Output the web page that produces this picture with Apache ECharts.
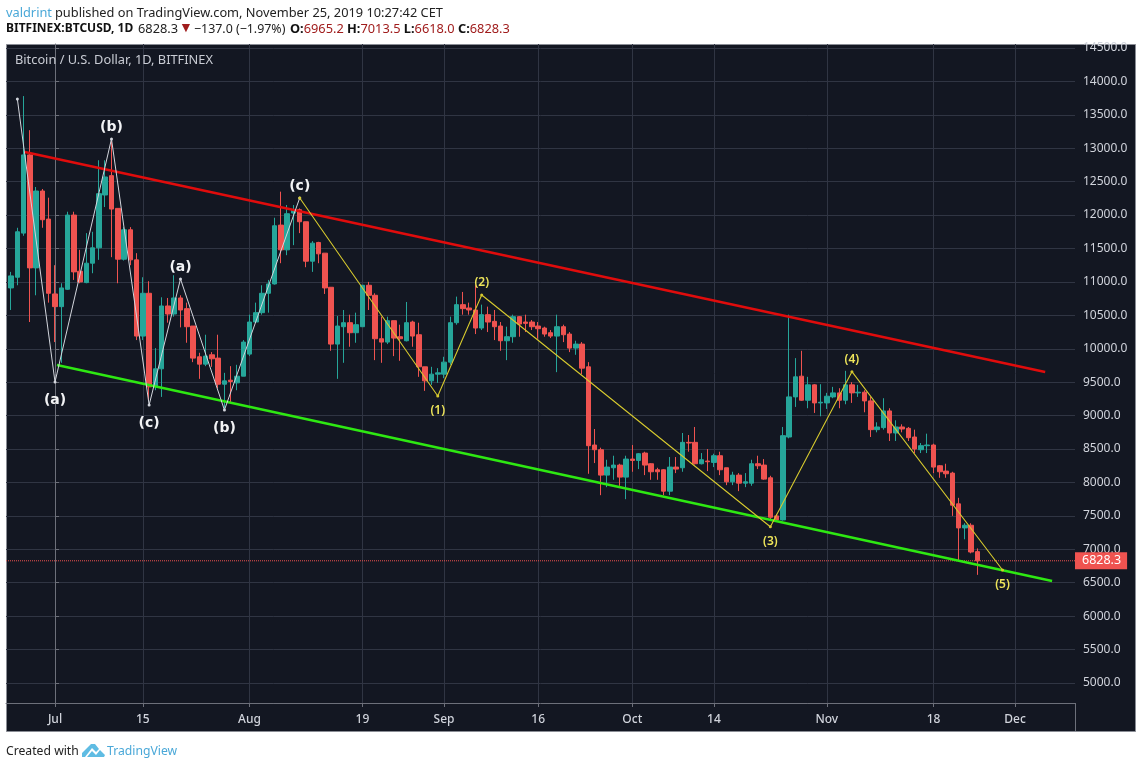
<!DOCTYPE html>
<html>
<head>
<meta charset="utf-8">
<title>BTCUSD</title>
<script src="https://cdn.jsdelivr.net/npm/echarts@6/dist/echarts.min.js"></script>
<style>
  html, body { margin: 0; padding: 0; background: #fff; }
  #chart { width: 1142px; height: 768px; }
</style>
</head>
<body>
<div id="chart"></div>
<script>
// days are counted from Jul 1 2019, first candle is Jun 24
const firstDay = -7;
const opens = [
  10910, 11070, 11730, 12900, 11210, 12360, 11940, 10820, 10630, 10890, 12000, 11160, 10990, 11280, 11510, 12300,
  12590, 12100, 11340, 11780, 11330, 10190, 10830, 9430, 9700, 10640, 10520, 10760, 10600, 10340, 9880, 9770,
  9910, 9860, 9470, 9530, 9490, 9590, 9920, 10400, 10540, 10830, 10970, 11850, 11480, 12030, 12080, 11900,
  11310, 11590, 11430, 10920, 10070, 10330, 10390, 10240, 10330, 10950, 10800, 10150, 10100, 10420, 10180, 10120,
  10400, 10210, 9730, 9520, 9620, 9620, 9800, 10390, 10660, 10610, 10580, 10310, 10510, 10410, 10340, 10120,
  10180, 10480, 10400, 10400, 10340, 10310, 10240, 10190, 10330, 10220, 10010, 10070, 9730, 8560, 8490, 8110,
  8220, 8260, 8080, 8350, 8330, 8440, 8280, 8190, 8190, 7870, 8230, 8220, 8600, 8600, 8280, 8320,
  8300, 8400, 8220, 8010, 8110, 7990, 7990, 8280, 8260, 8070, 7500, 7440, 8680, 9280, 9590, 9230,
  9460, 9190, 9190, 9280, 9340, 9230, 9460, 9340, 9350, 9220, 8790, 8820, 9070, 8740, 8830, 8810,
  8680, 8490, 8550, 8560, 8250, 8170, 8140, 7680, 7320, 7360, 6965.2
];
const closes = [
  11090, 11750, 12900, 11210, 12360, 11930, 10830, 10630, 10910, 12000, 11150, 11000, 11280, 11510, 12320, 12570,
  12090, 11340, 11780, 11330, 10190, 10830, 9430, 9700, 10640, 10520, 10760, 10580, 10330, 9860, 9770, 9890,
  9850, 9470, 9520, 9510, 9590, 10100, 10400, 10540, 10830, 10970, 11840, 11480, 12020, 12080, 11900, 11310,
  11580, 11420, 10910, 10070, 10340, 10390, 10240, 10360, 10950, 10800, 10150, 10100, 10420, 10160, 10150, 10390,
  10190, 9730, 9520, 9620, 9640, 9800, 10390, 10660, 10600, 10580, 10310, 10510, 10400, 10330, 10120, 10180,
  10480, 10370, 10380, 10330, 10300, 10220, 10190, 10330, 10210, 10010, 10070, 9710, 8550, 8490, 8110, 8230,
  8260, 8080, 8350, 8330, 8430, 8260, 8160, 8160, 7870, 8230, 8200, 8600, 8590, 8280, 8340, 8310,
  8400, 8190, 8010, 8110, 7990, 8010, 8280, 8250, 8050, 7480, 7440, 8700, 9280, 9580, 9230, 9460,
  9190, 9200, 9290, 9340, 9230, 9460, 9340, 9350, 9220, 8790, 8830, 9070, 8740, 8830, 8800, 8670,
  8500, 8550, 8560, 8230, 8160, 8130, 7660, 7320, 7360, 6960, 6828.3
];
const lows = [
  10580, 10950, 11690, 10400, 10800, 11810, 10690, 10100, 9790, 10880, 11030, 10980, 10980, 11130, 11330, 12120,
  11370, 10980, 11320, 11250, 10130, 10130, 9230, 9380, 9280, 10390, 10480, 10320, 10090, 9800, 9550, 9740,
  9730, 9410, 9080, 9190, 9380, 9590, 9890, 10390, 10510, 10540, 10960, 11280, 11400, 11550, 11730, 11220,
  11150, 11280, 10820, 9970, 9550, 9790, 10030, 10090, 10330, 10580, 9830, 9790, 10070, 9890, 9820, 10110,
  10030, 9580, 9370, 9460, 9490, 9560, 9760, 10360, 10510, 10510, 10220, 10280, 10250, 10130, 9970, 9830,
  10090, 10180, 10250, 10280, 10150, 10180, 10160, 9650, 10100, 9950, 9910, 9620, 8130, 8290, 7810, 7930,
  8040, 7950, 7750, 8160, 8200, 8110, 8040, 8040, 7810, 7810, 8140, 8160, 8460, 8270, 8270, 8170,
  8230, 8110, 7960, 7960, 7870, 7930, 7950, 8200, 8040, 7440, 7410, 7430, 8660, 9130, 9220, 9110,
  9040, 8990, 9100, 9260, 9110, 9170, 9190, 9280, 9050, 8680, 8750, 8790, 8620, 8620, 8750, 8620,
  8440, 8440, 8440, 8140, 8070, 8070, 7500, 6840, 7150, 6940, 6618
];
const highs = [
  11150, 11810, 13780, 13270, 12420, 12390, 12260, 11250, 10980, 12050, 12050, 11480, 11730, 11750, 12820, 12820,
  13120, 12100, 11820, 11820, 11430, 11070, 11010, 10010, 10770, 10760, 11100, 10800, 10690, 10340, 9940, 10210,
  9950, 10210, 9640, 9740, 9760, 10130, 10510, 10690, 10950, 11030, 11960, 12350, 12150, 12150, 12100, 11900,
  11610, 11600, 11430, 10920, 10490, 10580, 10510, 10540, 10950, 11000, 10830, 10480, 10480, 10420, 10360, 10700,
  10420, 10390, 9730, 9730, 9710, 9880, 10480, 10780, 10850, 10690, 10950, 10660, 10630, 10580, 10400, 10330,
  10510, 10490, 10510, 10430, 10400, 10330, 10280, 10510, 10360, 10250, 10120, 10100, 9800, 8800, 8520, 8340,
  8400, 8280, 8400, 8560, 8440, 8460, 8290, 8220, 8200, 8380, 8380, 8740, 8710, 8830, 8440, 8500,
  8430, 8460, 8220, 8160, 8140, 8140, 8340, 8400, 8350, 8100, 7530, 8830, 10510, 9860, 9970, 9580,
  9470, 9470, 9340, 9430, 9410, 9670, 9500, 9460, 9380, 9280, 8900, 9260, 9110, 8930, 8870, 8830,
  8790, 8590, 8730, 8580, 8260, 8280, 8160, 7770, 7390, 7390, 7013.5
];

const lastClose = 6828.3;

const xExtent = [-7.81, 162.55];
const yExtent = [4701, 14559];
const yTicks = [5000, 5500, 6000, 6500, 7000, 7500, 8000, 8500, 9000, 9500, 10000, 10500, 11000, 11500, 12000, 12500, 13000, 13500, 14000, 14500];
const xTickDays = [0, 14, 31, 49, 62, 77, 92, 105, 123, 140, 153];
const xTickLabels = ['Jul', '15', 'Aug', '19', 'Sep', '16', 'Oct', '14', 'Nov', '18', 'Dec'];

// trend lines
const redDays = [-4.8, 157.8];
const redPrices = [12944, 9652];
const greenDays = [0.3, 158.9];
const greenPrices = [9757, 6526];

// wave counts
const whiteDays = [-6, 0, 9, 15, 20, 27, 39];
const whitePrices = [13737, 9503, 13138, 9159, 11044, 9084, 12256];
const whiteLabels = ['', '(a)', '(b)', '(c)', '(a)', '(b)', '(c)'];
const yellowDays = [39, 61, 68, 114, 127, 151];
const yellowPrices = [12256, 9294, 10804, 7338, 9657, 6690];
const yellowLabels = ['', '(1)', '(2)', '(3)', '(4)', '(5)'];

const font = '"Noto Sans", sans-serif';
const gridColor = '#303543';
const edgeColor = '#6d707a';
const textColor = '#d1d4dc';
const darkText = '#222222';
const downText = '#a01c1c';

const candles = opens.map((o, i) => [firstDay + i, o, closes[i], lows[i], highs[i]]);

function pairs(days, prices) {
  return days.map((d, i) => [d, prices[i]]);
}

function trendLine(days, prices, color) {
  return {
    type: 'line', data: pairs(days, prices), symbol: 'none', silent: true, z: 5,
    lineStyle: { color: color, width: 2.4 }
  };
}

function waveLine(days, prices, labels, color, width, labelColor, labelFont, gapUp, gapDown) {
  const data = days.map((d, i) => {
    const up = i > 0 && prices[i] > prices[i - 1];
    return {
      value: [d, prices[i]],
      label: {
        show: labels[i] !== '',
        formatter: labels[i],
        position: up ? 'top' : 'bottom',
        distance: up ? gapUp : gapDown
      }
    };
  });
  return {
    type: 'line', data: data, silent: true, z: 6,
    symbol: 'circle', symbolSize: 3, showAllSymbol: true,
    itemStyle: { color: color },
    lineStyle: { color: color, width: width },
    label: Object.assign({ color: labelColor, fontFamily: font }, labelFont)
  };
}

function headerText(left, top, text, fill, size, weight) {
  return {
    type: 'text', left: left, top: top, silent: true,
    style: { text: text, fill: fill, fontSize: size, fontWeight: weight || 'normal', fontFamily: font }
  };
}

const chart = echarts.init(document.getElementById('chart'));
chart.setOption({
  animation: false,
  backgroundColor: '#ffffff',
  textStyle: { fontFamily: font },
  grid: { left: 6, right: 67, top: 44, bottom: 65 },
  xAxis: {
    type: 'value',
    min: xExtent[0],
    max: xExtent[1],
    axisLine: { onZero: false, lineStyle: { color: edgeColor } },
    axisTick: { length: 4, customValues: xTickDays, lineStyle: { color: edgeColor } },
    splitLine: { show: true, lineStyle: { color: gridColor } },
    axisLabel: {
      customValues: xTickDays,
      color: textColor, fontSize: 12, fontWeight: 500, margin: 11, fontFamily: font,
      formatter: v => xTickLabels[xTickDays.indexOf(v)]
    }
  },
  yAxis: {
    type: 'value',
    position: 'right',
    min: yExtent[0],
    max: yExtent[1],
    axisLine: { show: true, lineStyle: { color: edgeColor } },
    axisTick: { show: true, length: 4, customValues: yTicks, lineStyle: { color: edgeColor } },
    splitLine: { show: true, lineStyle: { color: gridColor } },
    axisLabel: {
      customValues: yTicks,
      color: textColor, fontSize: 12, margin: 8, fontFamily: font,
      padding: [2, 0, 0, 0],
      formatter: v => v.toFixed(1)
    }
  },
  series: [
    {
      type: 'candlestick',
      data: candles,
      barWidth: 5,
      silent: true,
      itemStyle: { color: '#26a69a', color0: '#ef5350', borderColor: '#26a69a', borderColor0: '#ef5350', borderWidth: 1 }
    },
    {
      // last price line with its tag on the axis
      type: 'line', symbol: 'none', silent: true, z: 4,
      data: [[xExtent[0], lastClose], [xExtent[1], lastClose]],
      lineStyle: { type: 'dotted', color: '#ef5350', width: 1 },
      endLabel: {
        show: true, distance: 0, formatter: lastClose.toFixed(1),
        color: '#ffffff', backgroundColor: '#ef5350', fontSize: 12.5, fontFamily: font,
        padding: [2, 6, 2, 7]
      }
    },
    trendLine(redDays, redPrices, '#e00c0c'),
    trendLine(greenDays, greenPrices, '#2ee812'),
    waveLine(whiteDays, whitePrices, whiteLabels, '#d3d6dd', 1, '#f2f3f5',
      { fontSize: 14, fontWeight: 'bold', fontFamily: '"DejaVu Sans", sans-serif' }, 3, 10),
    waveLine(yellowDays, yellowPrices, yellowLabels, '#d6c92e', 1.1, '#efe65a',
      { fontSize: 12, fontWeight: 600 }, 5, 7)
  ],
  graphic: [
    {
      type: 'rect', z: -10, silent: true,
      shape: { x: 6.5, y: 44.5, width: 1129, height: 687 },
      style: { fill: '#131722', stroke: '#8a8d95', lineWidth: 1 }
    },
    {
      type: 'line', z: 1, silent: true,
      shape: { x1: 1075.5, y1: 703, x2: 1075.5, y2: 731 },
      style: { stroke: edgeColor, lineWidth: 1 }
    },
    headerText(6, 7, 'valdrint', '#4aa8d8', 12.8),
    headerText(55, 7, 'published on TradingView.com, November 25, 2019 10:27:42 CET', darkText, 12.8),
    headerText(6, 23, 'BITFINEX:BTCUSD, 1D', '#111111', 12, 'bold'),
    headerText(138, 23, '6828.3', darkText, 12.8),
    headerText(179, 21, '\u25BC', downText, 14),
    headerText(194, 23, '\u2212137.0 (\u22121.97%)', darkText, 12.4),
    {
      type: 'text', left: 290, top: 23, silent: true,
      style: {
        text: '{b|O:}{r|6965.2} {b|H:}{r|7013.5} {b|L:}{r|6618.0} {b|C:}{r|6828.3}',
        rich: {
          b: { fill: '#111111', fontSize: 12.8, fontWeight: 'bold', fontFamily: font },
          r: { fill: downText, fontSize: 12.8, fontFamily: font }
        }
      }
    },
    {
      type: 'text', left: 15, top: 54, silent: true, z: 10,
      style: { text: 'Bitcoin / U.S. Dollar, 1D, BITFINEX', fill: '#c9ccd4', fontSize: 12.8, fontFamily: font }
    },
    headerText(6, 746, 'Created with', darkText, 12.2),
    {
      type: 'polygon', silent: true,
      shape: { points: [[82, 753], [91, 744], [95, 744], [99, 749], [96, 752], [92, 748], [85, 757], [82, 757]] },
      style: { fill: '#5fbce3' }
    },
    {
      type: 'polygon', silent: true,
      shape: { points: [[87, 757], [92, 751], [96, 755], [100, 750], [105, 755], [104, 757]] },
      style: { fill: '#5fbce3' }
    },
    headerText(107, 746, 'TradingView', '#4aa8d8', 12.2)
  ]
});
</script>
</body>
</html>
